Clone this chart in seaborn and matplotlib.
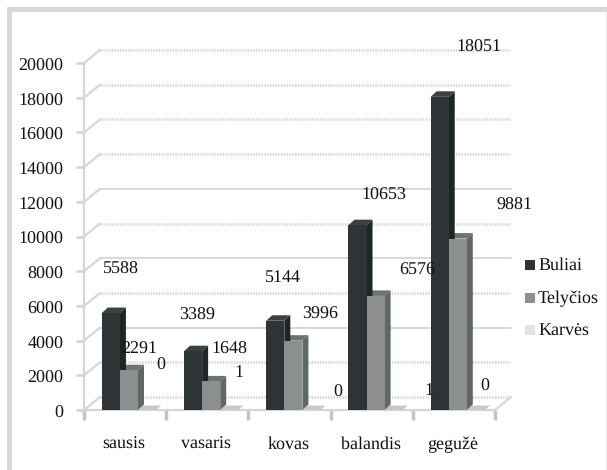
import matplotlib
matplotlib.use("Agg")
import matplotlib.pyplot as plt
import numpy as np
import pandas as pd
import seaborn as sns
from matplotlib.patches import Polygon, Rectangle
from matplotlib.transforms import Affine2D

months = ["sausis", "vasaris", "kovas", "balandis", "gegužė"]
series = ["Buliai", "Telyčios", "Karvės"]
buliai = [5588, 3389, 5144, 10653, 18051]
telycios = [2291, 1648, 3996, 6576, 9881]
karves = [0, 1, 0, 1, 0]
y_ticks = list(range(0, 20001, 2000))
solid_ticks = [4000, 8000, 12000]
colors = ["#2e3436", "#8c8e8f", "#e3e3e3"]
side_colors = ["#1e2624", "#5f6867", "#c8c8c8"]
top_colors = ["#3a4140", "#6c7372", "#c8c8c8"]

# data label centres in pixels, they sit all over the place in the original
label_px = {
    "5588": (121, 269.5), "2291": (139, 349.5), "0a": (161, 365.5),
    "3389": (197, 315.5), "1648": (229, 349.5), "1a": (239, 372.5),
    "5144": (283, 278.5), "3996": (320, 314.5), "0b": (338, 392.5),
    "10653": (384, 195.5), "6576": (417, 270.5), "1b": (429, 390.5),
    "18051": (479, 47.5), "9881": (514, 205.5), "0c": (485, 386.5),
}

W, H = 607, 470
DEPTH_X, DEPTH_Y = 16, 13
BAR_DX, BAR_DY = 6, 5.5

sns.set_style("white")
plt.rcParams["font.family"] = ["Liberation Serif", "DejaVu Serif"]
plt.rcParams["text.hinting"] = "no_hinting"
plt.rcParams["text.hinting_factor"] = 1

fig = plt.figure(figsize=(W / 100, H / 100), dpi=100)
ax = fig.add_axes([84 / W, 1 - 410 / H, (495 - 84) / W, (410 - 63) / H])

df = pd.DataFrame(
    {
        "month": months * 3,
        "series": np.repeat(series, len(months)),
        "value": buliai + telycios + karves,
    }
)
sns.barplot(
    data=df, x="month", y="value", hue="series", hue_order=series,
    palette=colors, width=0.66, saturation=1, ax=ax, legend=False, zorder=3,
    linewidth=0,
)
ax.set_xlim(-0.547, 4.453)
ax.set_ylim(0, 20000)
sns.despine(ax=ax, top=True, right=True)

px_x = 1 / (ax.get_window_extent().width / 5.0)
px_y = 1 / (ax.get_window_extent().height / 20000)
grid_color = "#d6d6d6"

# back wall lines and the little diagonals on the left
x0, x1 = ax.get_xlim()
back_x = x0 + DEPTH_X * px_x
back_x1 = x1 + DEPTH_X * px_x
for t in y_ticks:
    back_y = t + DEPTH_Y * px_y
    ax.plot([x0, back_x], [t, back_y], color=grid_color, lw=1.6, clip_on=False, zorder=1)
    if t in solid_ticks:
        ax.plot([back_x, back_x1], [back_y, back_y], color=grid_color, lw=1.3,
                clip_on=False, zorder=1)
    else:
        ax.plot([back_x, back_x1], [back_y, back_y], color=grid_color, lw=2,
                ls=(0, (0.5, 0.5)), clip_on=False, zorder=1)
ax.plot([x1, back_x1], [0, DEPTH_Y * px_y], color=grid_color, lw=1.6, clip_on=False, zorder=1)

# fake 3d: side and top faces from the bars seaborn drew
for i, cont in enumerate(ax.containers):
    for bar in cont:
        bx, bw, bh = bar.get_x(), bar.get_width(), bar.get_height()
        dx, dy = BAR_DX * px_x, BAR_DY * px_y
        if i == 2:
            # the empty series is only a flat floor tile
            dx, dy = 5 * px_x, 4.5 * px_y
        ax.add_patch(Polygon(
            [(bx + bw, 0), (bx + bw + dx, dy), (bx + bw + dx, bh + dy), (bx + bw, bh)],
            color=side_colors[i], zorder=3 - i * 0.1 - 0.05, lw=0, clip_on=False,
        ))
        ax.add_patch(Polygon(
            [(bx, bh), (bx + dx, bh + dy), (bx + bw + dx, bh + dy), (bx + bw, bh)],
            color=top_colors[i], zorder=3 - i * 0.1 - 0.05, lw=0, clip_on=False,
        ))

text_color = "#111111"
ax.set_xlabel("")
ax.set_ylabel("")
ax.set_yticks(y_ticks)
ax.tick_params(axis="y", length=6, width=2, color=grid_color, pad=9,
               labelsize=13, labelcolor=text_color, left=True)
ax.tick_params(axis="x", length=0, pad=19, labelsize=13, labelcolor=text_color)
ax.set_xticks(range(len(months)), months)
ax.set_xticks(np.arange(len(months) + 1) + x0, minor=True)
ax.tick_params(axis="x", which="minor", length=7, width=2.5, color="#c4c4c4", bottom=True)
for lbl in ax.get_xticklabels():
    lbl.set_transform(lbl.get_transform() + Affine2D().translate(-5, 0))
for lbl in ax.get_yticklabels():
    lbl.set_transform(lbl.get_transform() + Affine2D().translate(0, -1.5))
for side in ["left", "bottom"]:
    ax.spines[side].set_color(grid_color)
    ax.spines[side].set_linewidth(1.6)

for key, (px, py) in label_px.items():
    fig.text(px / W, 1 - py / H, key.rstrip("abc"), ha="center", va="center",
             fontsize=13, color=text_color, zorder=6)

# legend placed by hand like the excel one
for name, c, y in zip(series, colors, [265, 298, 330]):
    fig.add_artist(Rectangle((525 / W, 1 - (y + 5) / H), 10 / W, 10 / H,
                             transform=fig.transFigure, color=c, lw=0))
    fig.text(538 / W, 1 - (y + 1) / H, name, ha="left", va="center",
             fontsize=13, color=text_color)

# picture frame
frame = "#d9d9d9"
fig.add_artist(Rectangle((7 / W, 0), 5 / W, 1 - 7 / H, transform=fig.transFigure, color=frame, lw=0))
fig.add_artist(Rectangle((7 / W, 1 - 12 / H), 1 - 7 / W, 5 / H, transform=fig.transFigure, color=frame, lw=0))
fig.add_artist(Rectangle((606 / W, 0), 1 / W, 1 - 12 / H, transform=fig.transFigure, color="#eeeeee", lw=0))

fig.savefig("out.png", dpi=100)
